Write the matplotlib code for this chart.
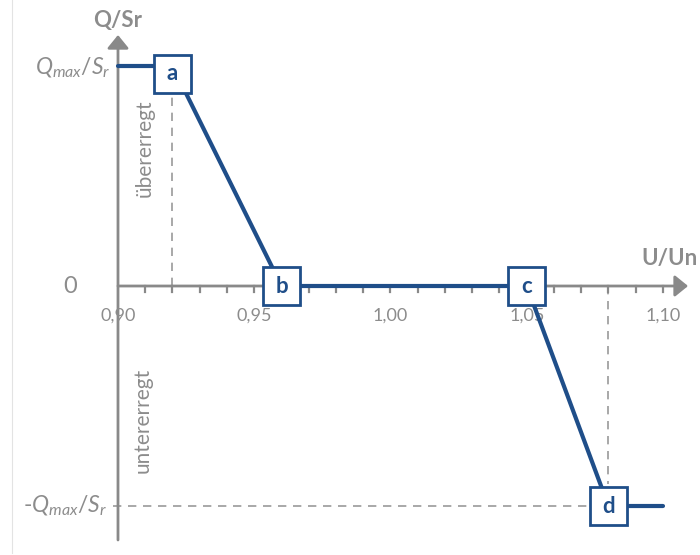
"""Q(U) characteristic: reactive power vs. voltage (Blindleistungskennlinie)."""

import matplotlib
matplotlib.use("Agg")
import matplotlib.pyplot as plt
from matplotlib.patches import Rectangle

plt.rcParams["font.family"] = ["Lato", "DejaVu Sans"]
plt.rcParams["mathtext.fontset"] = "custom"
plt.rcParams["mathtext.it"] = "Lato:italic"
plt.rcParams["mathtext.rm"] = "Lato"

# characteristic curve
u_vals = [0.90, 0.92, 0.96, 1.05, 1.08, 1.10]
q_vals = [1.0, 1.0, 0.0, 0.0, -1.0, -1.0]

# labelled corner points
pt_names = ["a", "b", "c", "d"]
pt_u = [0.92, 0.96, 1.05, 1.08]
pt_q = [1.0, 0.0, 0.0, -1.0]

x_ticks = [0.90, 0.95, 1.00, 1.05, 1.10]
x_tick_labels = ["0,90", "0,95", "1,00", "1,05", "1,10"]
minor_ticks = [round(0.91 + 0.01 * i, 2) for i in range(20)]

BLUE = "#1f4e89"
AXIS = "#898989"
TEXT = "#8c8c8c"
GUIDE = "#999999"

fig = plt.figure(figsize=(7, 5.55), dpi=100)
ax = fig.add_axes([0, 0, 1, 1])
ax.set_xlim(0.8567, 1.11358)
ax.set_ylim(-1.2227, 1.3)
ax.axis("off")

# faint frame line on the left
ax.plot([0.8611, 0.8611], [1.3, -1.2136], color="#e3e3e3", lw=0.8)

# dashed guides
dash = (0, (5, 4))
ax.plot([0.92, 0.92], [0.0, 0.87], color=GUIDE, lw=1.2, ls=dash, zorder=1)
ax.plot([1.08, 1.08], [0.0, -0.9], color=GUIDE, lw=1.2, ls=dash, zorder=1)
ax.plot([0.898, 1.08], [-1.0, -1.0], color=GUIDE, lw=1.2, ls=dash, zorder=1)

# axes with arrows
arrow = dict(arrowstyle="-|>,head_length=0.8,head_width=0.65", mutation_scale=10,
             color=AXIS, lw=2.0, shrinkA=0, shrinkB=0)
ax.annotate("", xy=(1.1092, 0), xytext=(0.90, 0), arrowprops=arrow, zorder=2)
ax.annotate("", xy=(0.90, 1.141), xytext=(0.90, -1.1545), arrowprops=arrow, zorder=2)
for t in minor_ticks:
    ax.plot([t, t], [0, -0.027], color=AXIS, lw=1.6, zorder=2)
for t, lbl in zip(x_ticks, x_tick_labels):
    ax.text(t, -0.136, lbl, ha="center", va="center", fontsize=13, color=TEXT, zorder=3)

# characteristic
ax.plot(u_vals, q_vals, color=BLUE, lw=3.0, solid_capstyle="round", zorder=4)

# boxes on corner points
bw, bh = 0.01358, 0.172
for name, u, q in zip(pt_names, pt_u, pt_q):
    qc = q - 0.035 if name == "a" else q
    ax.add_patch(Rectangle((u - bw / 2, qc - bh / 2), bw, bh, facecolor="white",
                           edgecolor=BLUE, lw=2.0, zorder=5))
    ax.text(u, qc, name, ha="center", va="center", fontsize=16, fontweight="bold",
            color=BLUE, zorder=6)

# axis titles and y labels
ax.text(0.90, 1.209, "Q/Sr", ha="center", va="center", fontsize=16,
        fontweight="bold", color=TEXT)
ax.text(1.1128, 0.127, "U/Un", ha="right", va="center", fontsize=16,
        fontweight="bold", color=TEXT)
ax.text(0.8971, 0.99, r"$Q_{max}/S_r$", ha="right", va="center", fontsize=16.5, color=TEXT)
ax.text(0.8960, -1.0, r"-$Q_{max}/S_r$", ha="right", va="center", fontsize=16.5, color=TEXT)
ax.text(0.8824, 0.0, "0", ha="center", va="center", fontsize=17, color=TEXT)

ax.text(0.9099, 0.627, "übererregt", rotation=90, ha="center", va="center",
        fontsize=15, color=TEXT)
ax.text(0.9092, -0.609, "untererregt", rotation=90, ha="center", va="center",
        fontsize=15, color=TEXT)

fig.savefig("out.png", dpi=100)
